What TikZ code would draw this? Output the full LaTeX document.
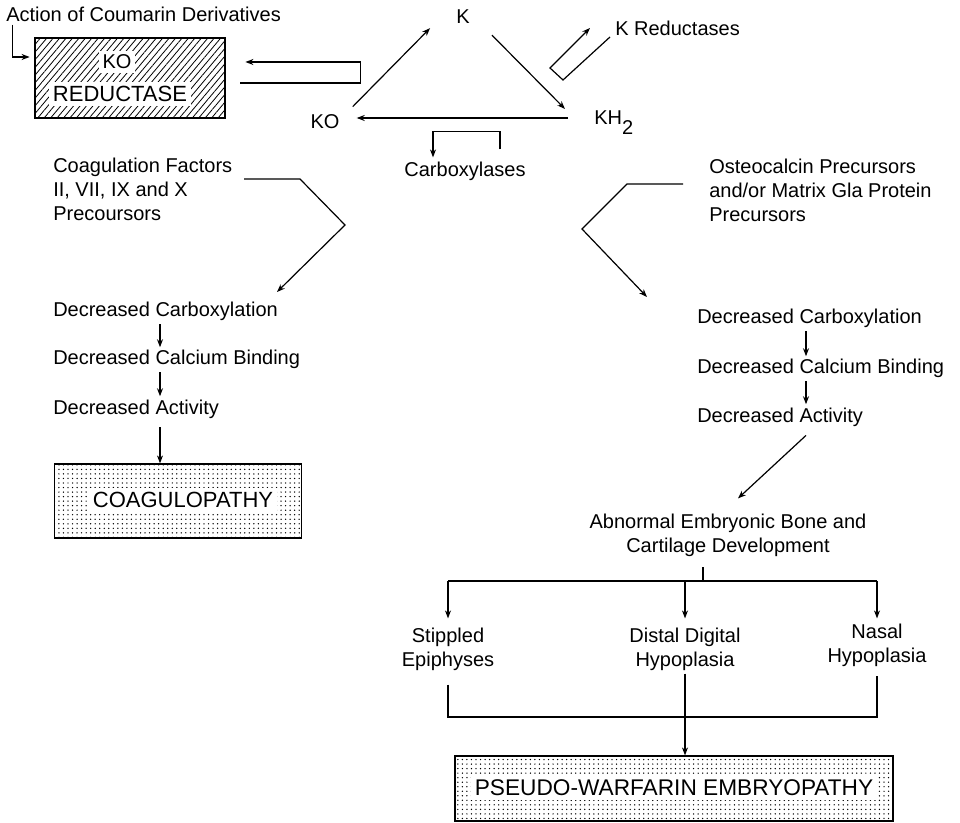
\documentclass[tikz,border=0pt]{standalone}
\usepackage{fontspec}
\setmainfont{Liberation Sans}
\usetikzlibrary{arrows.meta,patterns.meta}

\begin{document}
\begin{tikzpicture}[x=0.75pt, y=-0.75pt, line width=0.9pt,
    font=\fontsize{15}{18}\selectfont]
  % page = the 960 x 823 plate, one unit per pixel, y running down
  \useasboundingbox (0,0) rectangle (960,823);
  \tikzset{
    lab/.style={inner sep=2pt},
    leftlab/.style={anchor=west, align=left, inner sep=2pt},
    baselab/.style={anchor=base west, inner sep=2pt},
    midlab/.style={align=center, inner sep=2pt},
    arr/.style={-{Stealth[length=6pt,width=4.5pt]}},
    hatchbox/.style={draw, pattern={Lines[angle=50, distance=3.7pt, line width=0.6pt]}},
    dotbox/.style={draw, pattern={Dots[distance=3.4pt, radius=0.55pt]}},
    boxlab/.style={fill=white, inner sep=3pt, font=\fontsize{16.5}{18}\selectfont}}

  % ========== the vitamin K cycle ==========
  \node[leftlab] (coum) at (3,14) {Action of Coumarin Derivatives};
  \node[hatchbox, minimum width=142.5pt, minimum height=60pt] (kored) at (130,78) {};
  \node[boxlab, font=\fontsize{15}{16}\selectfont] (korko) at (117,62) {KO};
  \node[boxlab] (korred) at (120,94) {REDUCTASE};
  \draw[arr] ([xshift=7pt]coum.south west) |- ([shift={(-5,-21)}]kored.west);

  \node[lab] (K) at (463,17) {K};
  \node[lab] (KO) at (325,122) {KO};
  \node[baselab] (KH) at (591,125) {KH\raisebox{-0.9ex}{2}};
  \draw[arr] ([shift={(10,-5)}]KO.north east) -- ([shift={(-23,1)}]K.south west);
  \draw[arr] ([shift={(19,8)}]K.south east) -- ([shift={(-26,1)}]KH.north west);
  \draw[arr] ([shift={(-23,-7)}]KH.base west) -- ([shift={(14,-4)}]KO.east);

  % the KO reductase loop back to the box
  \draw[arr] ([shift={(15,5)}]kored.east) -- ++(120,0) |- ([shift={(20,-16)}]kored.east);

  % K reductases
  \node[leftlab] (kred) at (612,28) {K Reductases};
  \draw[arr] ([shift={(-2,9)}]kred.west) -- ++(-47,43) -- ++(-13,-12) -- ++(40,-40);

  % carboxylases
  \node[lab] (carb) at (465,171) {Carboxylases};
  \draw[arr] ([shift={(35,-9)}]carb.north) -- ++(0,-18) -| ([shift={(-32,-1)}]carb.north);

  % ========== left branch: clotting factors ==========
  \node[leftlab, anchor=north west] (coag) at (50,155)
    {Coagulation Factors\\II, VII, IX and X\\Precoursors};
  \coordinate (cv) at (244,179);
  \draw[arr] (cv) -- ++(56,0) -- ++(45,46) -- (277,292);

  \node[baselab] (lc1) at (50,317) {Decreased Carboxylation};
  \node[baselab] (lc2) at (50,365) {Decreased Calcium Binding};
  \node[baselab] (lc3) at (50,414) {Decreased Activity};
  \coordinate (lax) at (160,0);
  \draw[arr] (lc1.south -| lax) -- (lc2.north -| lax);
  \draw[arr] (lc2.south -| lax) -- (lc3.north -| lax);

  \node[dotbox, minimum width=185pt, minimum height=55.5pt] (coagbox) at (178,501) {};
  \node[boxlab] (coaglab) at (183,500) {COAGULOPATHY};
  \draw[arr] ([shift={(0,6)}]lc3.south -| lax) -- (coagbox.north -| lax);

  % ========== right branch: bone proteins ==========
  \node[leftlab, anchor=north west] (osteo) at (706,156)
    {Osteocalcin Precursors\\and/or Matrix Gla Protein\\Precursors};
  \coordinate (ov) at (683,184);
  \draw[arr] (ov) -- ++(-56,0) -- ++(-45,45) -- ++(65,68);

  \node[baselab] (rc1) at (694,324) {Decreased Carboxylation};
  \node[baselab] (rc2) at (694,374) {Decreased Calcium Binding};
  \node[baselab] (rc3) at (694,422) {Decreased Activity};
  \coordinate (rax) at (806,0);
  \draw[arr] (rc1.south -| rax) -- (rc2.north -| rax);
  \draw[arr] (rc2.south -| rax) -- (rc3.north -| rax);

  \node[midlab] (abn) at (728,535) {Abnormal Embryonic Bone and\\Cartilage Development};
  \draw[arr] ([shift={(0,6)}]rc3.south -| rax) -- ([shift={(10,-12)}]abn.north);

  % --- the three findings
  \node[midlab] (stip)  at (448,649) {Stippled\\Epiphyses};
  \node[midlab] (dist)  at (685,649) {Distal Digital\\Hypoplasia};
  \node[midlab] (nasal) at (877,645) {Nasal\\Hypoplasia};
  \coordinate (stemtop) at (703,567);
  \coordinate (brj) at (703,581);
  \draw (stemtop) -- (brj);
  \draw (stip.north |- brj) -- (nasal.north |- brj);
  \draw[arr] (stip.north |- brj) -- ([shift={(0,-6)}]stip.north);
  \draw[arr] (dist.north |- brj) -- ([shift={(0,-6)}]dist.north);
  \draw[arr] (nasal.north |- brj) -- ([shift={(0,-2)}]nasal.north);

  % --- gathered into the embryopathy
  \node[dotbox, minimum width=328.5pt, minimum height=48.75pt] (pseudo) at (674,788.5) {};
  \node[boxlab, font=\fontsize{17}{18}\selectfont] (pseudolab) at (674,788)
    {PSEUDO-WARFARIN EMBRYOPATHY};
  \coordinate (jn) at (685,717);
  \draw ([shift={(0,11)}]stip.south) |- (nasal.south |- jn) -- ([shift={(0,6)}]nasal.south);
  \draw[arr] (dist.south) -- (dist.south |- pseudo.north);
\end{tikzpicture}
\end{document}
